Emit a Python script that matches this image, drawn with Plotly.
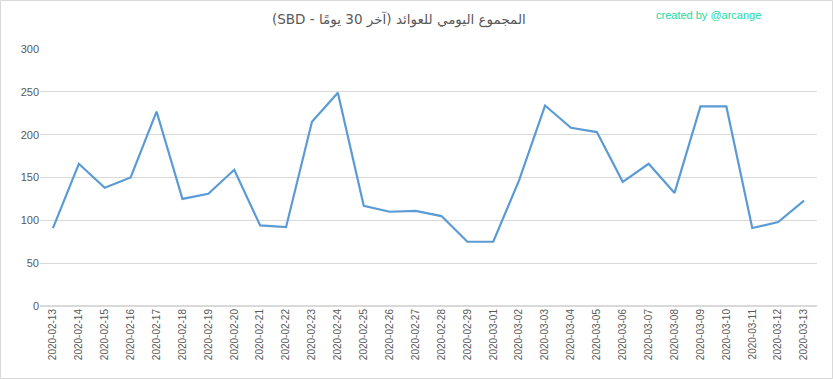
import plotly.graph_objects as go

dates = ["2020-02-13", "2020-02-14", "2020-02-15", "2020-02-16", "2020-02-17", "2020-02-18",
         "2020-02-19", "2020-02-20", "2020-02-21", "2020-02-22", "2020-02-23", "2020-02-24",
         "2020-02-25", "2020-02-26", "2020-02-27", "2020-02-28", "2020-02-29", "2020-03-01",
         "2020-03-02", "2020-03-03", "2020-03-04", "2020-03-05", "2020-03-06", "2020-03-07",
         "2020-03-08", "2020-03-09", "2020-03-10", "2020-03-11", "2020-03-12", "2020-03-13"]
values = [91, 166, 138, 150, 227, 125, 131, 159, 94, 92, 215, 249, 117, 110, 111, 105,
          75, 75, 147, 234, 208, 203, 145, 166, 132, 233, 233, 91, 98, 123]
y_ticks = [0, 50, 100, 150, 200, 250, 300]

title_text = "المجموع اليومي للعوائد (آخر 30 يومًا - SBD)"
credit_text = "created by @arcange"

W, H = 833, 379
ml, mr, mt, mb = 40, 16, 49, 73
pw, ph = W - ml - mr, H - mt - mb

fig = go.Figure()
fig.add_trace(go.Scatter(x=dates, y=values, mode="lines",
                         line=dict(color="#5b9bd5", width=2.2), hoverinfo="x+y"))

fig.update_layout(
    width=W, height=H,
    margin=dict(l=ml, r=mr, t=mt, b=mb),
    paper_bgcolor="white", plot_bgcolor="white",
    showlegend=False,
    font=dict(family="DejaVu Sans, Noto Sans, sans-serif", color="#595959"),
    xaxis=dict(type="category", tickangle=-90, showgrid=False, showline=False,
               ticks="", tickfont=dict(size=10, color="#595959", family="Liberation Sans, Arial"),
               range=[-0.5, len(dates) - 0.5]),
    yaxis=dict(range=[0, 300], tickvals=y_ticks, showgrid=True, gridcolor="#d9d9d9",
               gridwidth=1, zeroline=True, zerolinecolor="#d9d9d9", showline=False, ticks="",
               tickfont=dict(size=11, color="#595959", family="Liberation Sans, Arial")),
    annotations=[
        dict(text="\u202B" + title_text + "\u202C", x=(399 - ml) / pw, y=1 + (mt - 20) / ph,
             xref="paper", yref="paper",
             showarrow=False, xanchor="center", yanchor="middle",
             font=dict(size=13.5, color="#595959", family="DejaVu Sans, sans-serif")),
        dict(text=credit_text, x=(763 - ml) / pw, y=1 + (mt - 15) / ph, xref="paper", yref="paper",
             showarrow=False, xanchor="right", yanchor="middle",
             font=dict(size=11, color="#1fd8a0", family="Liberation Sans, Arial")),
    ],
    shapes=[dict(type="rect", xref="paper", yref="paper",
                 x0=(0.5 - ml) / pw, x1=(W - 0.5 - ml) / pw,
                 y0=-(mb - 0.5) / ph, y1=1 + (mt - 0.5) / ph,
                 line=dict(color="#d9d9d9", width=1), layer="below")],
)

fig.write_html("out.html")
